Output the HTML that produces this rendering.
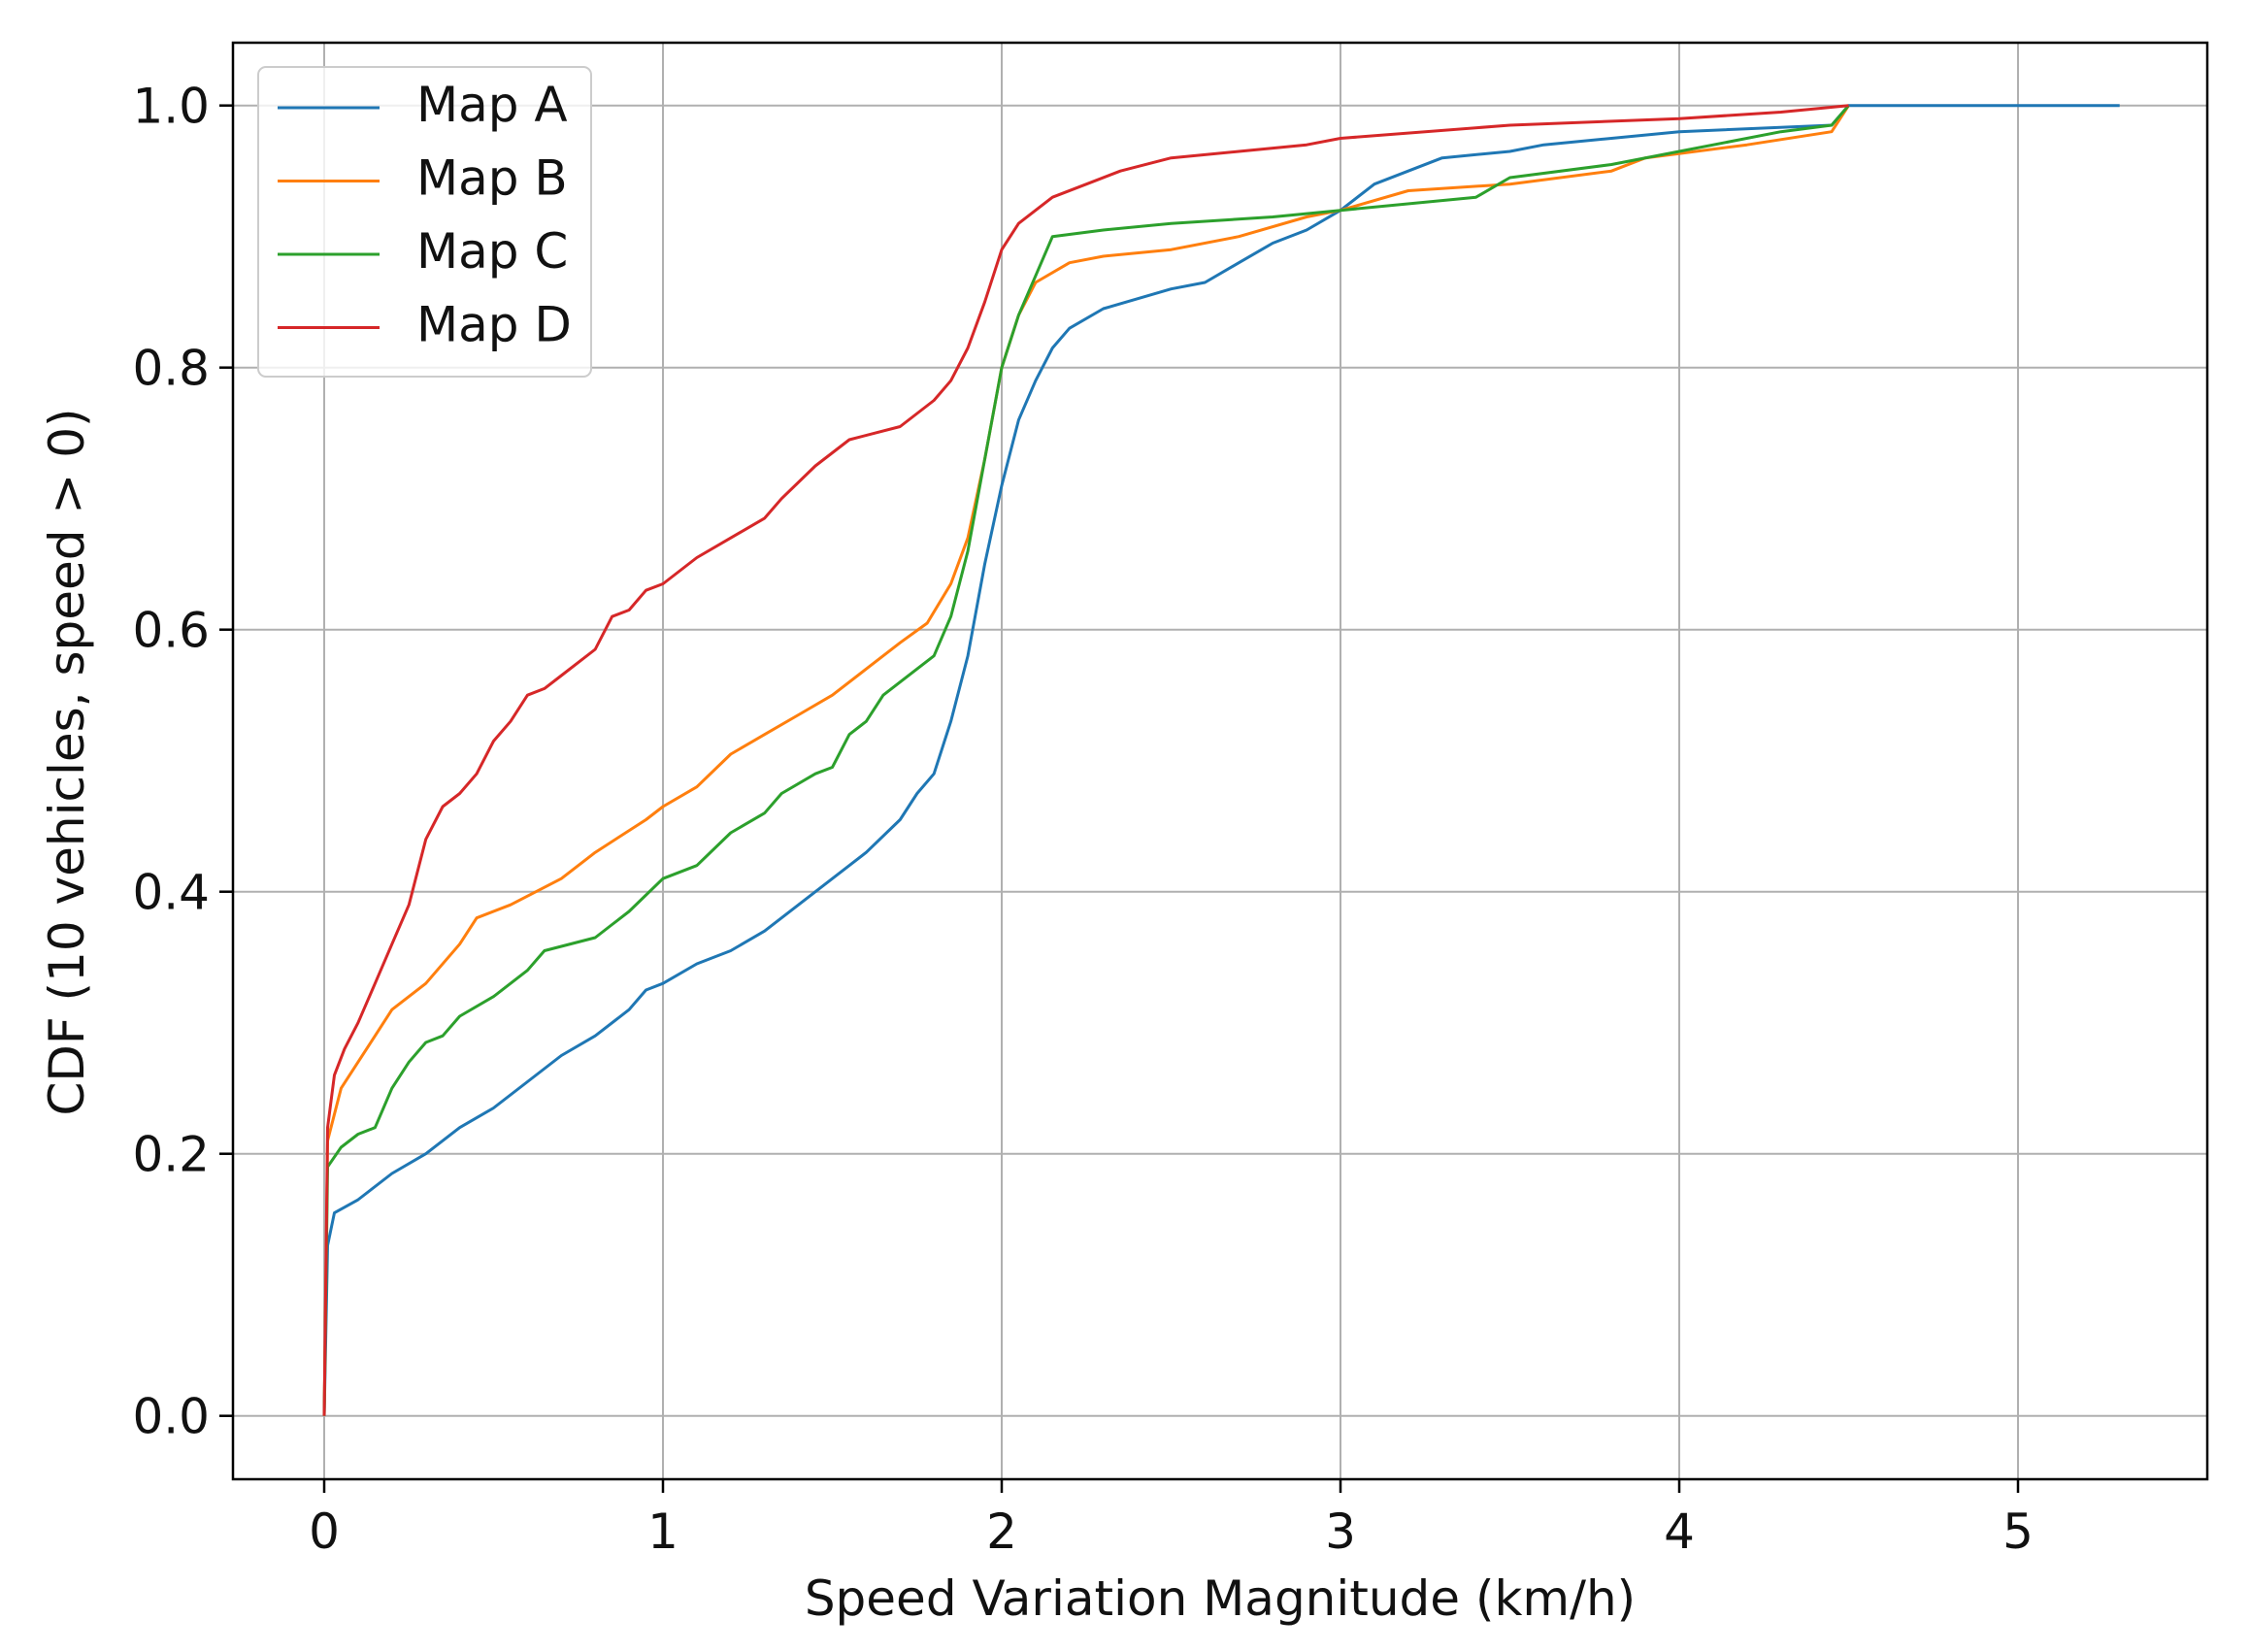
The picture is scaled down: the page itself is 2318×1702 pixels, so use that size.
<!DOCTYPE html>
<html><head><meta charset="utf-8"><style>
html,body{margin:0;padding:0;background:#fff;}
svg{display:block;font-family:"DejaVu Sans","Liberation Sans",sans-serif;}
</style></head><body>
<svg id="chart" width="2318" height="1702" viewBox="0 0 2318 1702">
<g id="grid"></g>
<g id="series"></g>
<rect x="240" y="44" width="2034" height="1480" fill="none" stroke="#000" stroke-width="2.5"/>
<g id="ticks"></g>
<text x="1257" y="1664" font-size="50" text-anchor="middle" fill="#111">Speed Variation Magnitude (km/h)</text>
<text transform="translate(86,785) rotate(-90)" font-size="50" text-anchor="middle" fill="#111">CDF (10 vehicles, speed &gt; 0)</text>
<g id="legend">
<rect x="266" y="69" width="343" height="319" rx="8" fill="#fff" fill-opacity="0.8" stroke="#ccc" stroke-width="2"/>
</g>
</svg>
<script>
const xTicks=[0,1,2,3,4,5];
const yTicks=[0,0.2,0.4,0.6,0.8,1.0];
const yTickLabels=["0.0","0.2","0.4","0.6","0.8","1.0"];
const seriesNames=["Map A","Map B","Map C","Map D"];
const seriesColors=["#1f77b4","#ff7f0e","#2ca02c","#d62728"];
const mapAx=[0,0.01,0.03,0.1,0.2,0.3,0.4,0.5,0.6,0.7,0.8,0.9,0.95,1.0,1.1,1.2,1.3,1.4,1.5,1.6,1.7,1.75,1.8,1.85,1.9,1.95,2.0,2.05,2.1,2.15,2.2,2.3,2.5,2.6,2.7,2.8,2.9,3.0,3.1,3.2,3.3,3.5,3.6,3.8,4.0,4.45,4.5,5.3];
const mapAy=[0,0.13,0.155,0.165,0.185,0.2,0.22,0.235,0.255,0.275,0.29,0.31,0.325,0.33,0.345,0.355,0.37,0.39,0.41,0.43,0.455,0.475,0.49,0.53,0.58,0.65,0.71,0.76,0.79,0.815,0.83,0.845,0.86,0.865,0.88,0.895,0.905,0.92,0.94,0.95,0.96,0.965,0.97,0.975,0.98,0.985,1.0,1.0];
const mapBx=[0,0.01,0.05,0.1,0.15,0.2,0.3,0.4,0.45,0.55,0.7,0.8,0.95,1.0,1.1,1.2,1.3,1.4,1.5,1.6,1.7,1.78,1.85,1.9,1.95,2.0,2.05,2.1,2.2,2.3,2.5,2.7,2.9,3.0,3.2,3.5,3.8,3.9,4.2,4.45,4.5];
const mapBy=[0,0.21,0.25,0.27,0.29,0.31,0.33,0.36,0.38,0.39,0.41,0.43,0.455,0.465,0.48,0.505,0.52,0.535,0.55,0.57,0.59,0.605,0.635,0.67,0.73,0.8,0.84,0.865,0.88,0.885,0.89,0.9,0.915,0.92,0.935,0.94,0.95,0.96,0.97,0.98,1.0];
const mapCx=[0,0.01,0.05,0.1,0.15,0.2,0.25,0.3,0.35,0.4,0.5,0.6,0.65,0.8,0.85,0.9,1.0,1.1,1.2,1.3,1.35,1.45,1.5,1.55,1.6,1.65,1.7,1.8,1.85,1.9,1.95,2.0,2.05,2.1,2.15,2.3,2.5,2.8,3.0,3.4,3.5,3.8,4.0,4.3,4.45,4.5];
const mapCy=[0,0.19,0.205,0.215,0.22,0.25,0.27,0.285,0.29,0.305,0.32,0.34,0.355,0.365,0.375,0.385,0.41,0.42,0.445,0.46,0.475,0.49,0.495,0.52,0.53,0.55,0.56,0.58,0.61,0.66,0.73,0.8,0.84,0.87,0.9,0.905,0.91,0.915,0.92,0.93,0.945,0.955,0.965,0.98,0.985,1.0];
const mapDx=[0,0.01,0.03,0.06,0.1,0.15,0.2,0.25,0.3,0.35,0.4,0.45,0.5,0.55,0.6,0.65,0.7,0.8,0.85,0.9,0.95,1.0,1.1,1.2,1.3,1.35,1.45,1.55,1.7,1.8,1.85,1.9,1.95,2.0,2.05,2.15,2.25,2.35,2.5,2.7,2.9,3.0,3.5,4.0,4.3,4.5];
const mapDy=[0,0.22,0.26,0.28,0.3,0.33,0.36,0.39,0.44,0.465,0.475,0.49,0.515,0.53,0.55,0.555,0.565,0.585,0.61,0.615,0.63,0.635,0.655,0.67,0.685,0.7,0.725,0.745,0.755,0.775,0.79,0.815,0.85,0.89,0.91,0.93,0.94,0.95,0.96,0.965,0.97,0.975,0.985,0.99,0.995,1.0];
const seriesX=[mapAx,mapBx,mapCx,mapDx];
const seriesY=[mapAy,mapBy,mapCy,mapDy];

const NS="http://www.w3.org/2000/svg";
const X0=334, XU=349, Y0=1458.7, YU=1350;
const xs=v=>X0+v*XU;
const ys=v=>Y0-v*YU;
function mk(tag,attrs,parent){const e=document.createElementNS(NS,tag);for(const k in attrs)e.setAttribute(k,attrs[k]);parent.appendChild(e);return e;}
const grid=document.getElementById('grid'),ticks=document.getElementById('ticks'),ser=document.getElementById('series'),leg=document.getElementById('legend');
xTicks.forEach(t=>{
  const g=mk('line',{x1:xs(t),x2:xs(t),y1:44,y2:1524,stroke:'#b0b0b0','stroke-width':2},grid);
  
  
  const tk=mk('line',{x1:xs(t),x2:xs(t),y1:1524,y2:1538,stroke:'#000','stroke-width':2.5},ticks);
  
  
  const tx=mk('text',{x:xs(t),y:1595,'font-size':50,'text-anchor':'middle',fill:'#111'},ticks);
  tx.textContent=String(t);
  
  
});
yTicks.forEach((t,i)=>{
  const g=mk('line',{x1:240,x2:2274,y1:ys(t),y2:ys(t),stroke:'#b0b0b0','stroke-width':2},grid);
  
  
  const tk=mk('line',{x1:226,x2:240,y1:ys(t),y2:ys(t),stroke:'#000','stroke-width':2.5},ticks);
  
  
  const tx=mk('text',{x:216,y:ys(t)+18,'font-size':50,'text-anchor':'end',fill:'#111'},ticks);
  tx.textContent=yTickLabels[i];
  
  
});
seriesNames.forEach((n,i)=>{
  const pts=seriesX[i].map((x,j)=>xs(x).toFixed(1)+','+ys(seriesY[i][j]).toFixed(1)).join(' ');
  const pl=mk('polyline',{points:pts,fill:'none',stroke:seriesColors[i],'stroke-width':3,'stroke-linejoin':'round'},ser);
  
  
  const ly=111+i*75.5;
  const ll=mk('line',{x1:286,x2:391,y1:ly,y2:ly,stroke:seriesColors[i],'stroke-width':3},leg);
  
  
  const lt=mk('text',{x:429,y:ly+14,'font-size':50,fill:'#111'},leg);
  lt.textContent=n;
  
  
});
</script>
</body></html>
